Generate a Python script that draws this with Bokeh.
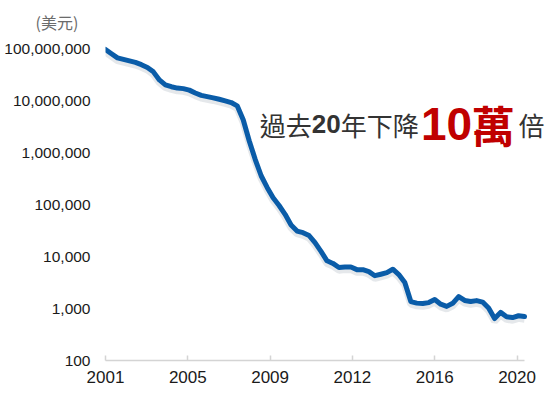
from bokeh.plotting import figure
from bokeh.models import Range1d, FixedTicker, NumeralTickFormatter, Label, ColumnDataSource
from bokeh.embed import file_html
from bokeh.resources import INLINE

# ---- data ----
quarter_index = list(range(71))
cost_usd = [
    96500000, 79800000, 66300000, 62000000, 58000000, 54300000, 49100000, 43500000,
    35700000, 25000000, 20100000, 18500000, 17400000, 17000000, 15900000, 14000000,
    12600000, 11900000, 11300000, 10600000, 9890000, 9170000, 7930000, 4270000,
    1690000, 743000, 358000, 214000, 135000, 95900, 64900, 40300,
    30900, 28800, 25400, 18500, 12600, 8270, 7370, 6150,
    6310, 6290, 5600, 5600, 5130, 4280, 4570, 4910,
    5700, 4490, 3150, 1360, 1270, 1245, 1300, 1490,
    1210, 1100, 1260, 1700, 1430, 1360, 1420, 1330,
    1020, 640, 843, 694, 670, 726, 700,
]
year_tick_pos = [0, 13.75, 27.5, 41.25, 55, 68.75]
year_labels = ["2001", "2005", "2009", "2012", "2016", "2020"]
y_ticks = [100, 1000, 10000, 100000, 1000000, 10000000, 100000000]

shadow_cost = [v * 0.89 for v in cost_usd]

src = ColumnDataSource(dict(x=quarter_index, y=cost_usd, ys=shadow_cost))

p = figure(width=550, height=395, y_axis_type="log",
           x_range=Range1d(0, 74.34), y_range=Range1d(100, 1.2e8),
           output_backend="svg", toolbar_location=None,
           min_border_left=105, min_border_right=0,
           min_border_top=44, min_border_bottom=35)
p.outline_line_color = None
p.background_fill_color = "white"
p.border_fill_color = "white"
p.xgrid.visible = False
p.ygrid.visible = False

# unit label as title
p.title.text = "(美元)"
p.title.align = "left"
p.title.vertical_align = "top"
p.title.offset = -70
p.title.standoff = 18
p.title.text_line_height = 0.7
p.title.text_font = "Noto Sans CJK TC"
p.title.text_font_size = "16px"
p.title.text_font_style = "normal"
p.title.text_color = "#6b6b6b"

# shadow + line
p.line("x", "ys", source=src, line_color="#8a96a3", line_width=7, line_alpha=0.22)
p.line("x", "y", source=src, line_color="#0a5ca8", line_width=5,
       line_join="round", line_cap="round")

# x axis
xa = p.xaxis[0]
xa.ticker = FixedTicker(ticks=year_tick_pos)
xa.major_label_overrides = {t: l for t, l in zip(year_tick_pos, year_labels)}
xa.bounds = (quarter_index[0], quarter_index[-1])
xa.axis_line_color = "#d4d4d4"
xa.axis_line_width = 1.5
xa.major_tick_line_color = "#d4d4d4"
xa.major_tick_line_width = 1.5
xa.major_tick_in = 5
xa.major_tick_out = 0
xa.minor_tick_line_color = None
xa.major_label_text_font = "Liberation Sans"
xa.major_label_text_font_size = "17px"
xa.major_label_text_color = "#1a1a1a"
xa.major_label_standoff = 10

# y axis
ya = p.yaxis[0]
ya.ticker = FixedTicker(ticks=y_ticks)
ya.formatter = NumeralTickFormatter(format="0,0")
ya.axis_line_color = None
ya.major_tick_line_color = None
ya.major_tick_in = 0
ya.major_tick_out = 0
ya.minor_tick_line_color = None
ya.minor_tick_in = 0
ya.minor_tick_out = 0
ya.major_label_text_font = "Liberation Sans"
ya.major_label_text_font_size = "15.5px"
ya.major_label_text_color = "#1a1a1a"
ya.major_label_standoff = 15

# annotation
base_y = 3.47e6
pieces = [
    (25.75, "過去", "Noto Sans CJK TC", "26px", "normal", "#333333"),
    (34.45, "20", "Liberation Sans", "26px", "bold", "#333333"),
    (39.3, "年下降", "Noto Sans CJK TC", "26px", "normal", "#333333"),
    (52.7, "10", "Liberation Sans", "46px", "bold", "#c00000"),
    (61.2, "萬", "Noto Sans CJK TC", "43px", "bold", "#c00000"),
    (69.0, "倍", "Noto Sans CJK TC", "26px", "normal", "#333333"),
]
for x, t, f, s, st, c in pieces:
    p.add_layout(Label(x=x, y=base_y, text=t, text_font=f, text_font_size=s,
                       text_font_style=st, text_color=c,
                       text_baseline="alphabetic", text_align="left"))

open("out.html", "w").write(file_html(p, INLINE))
